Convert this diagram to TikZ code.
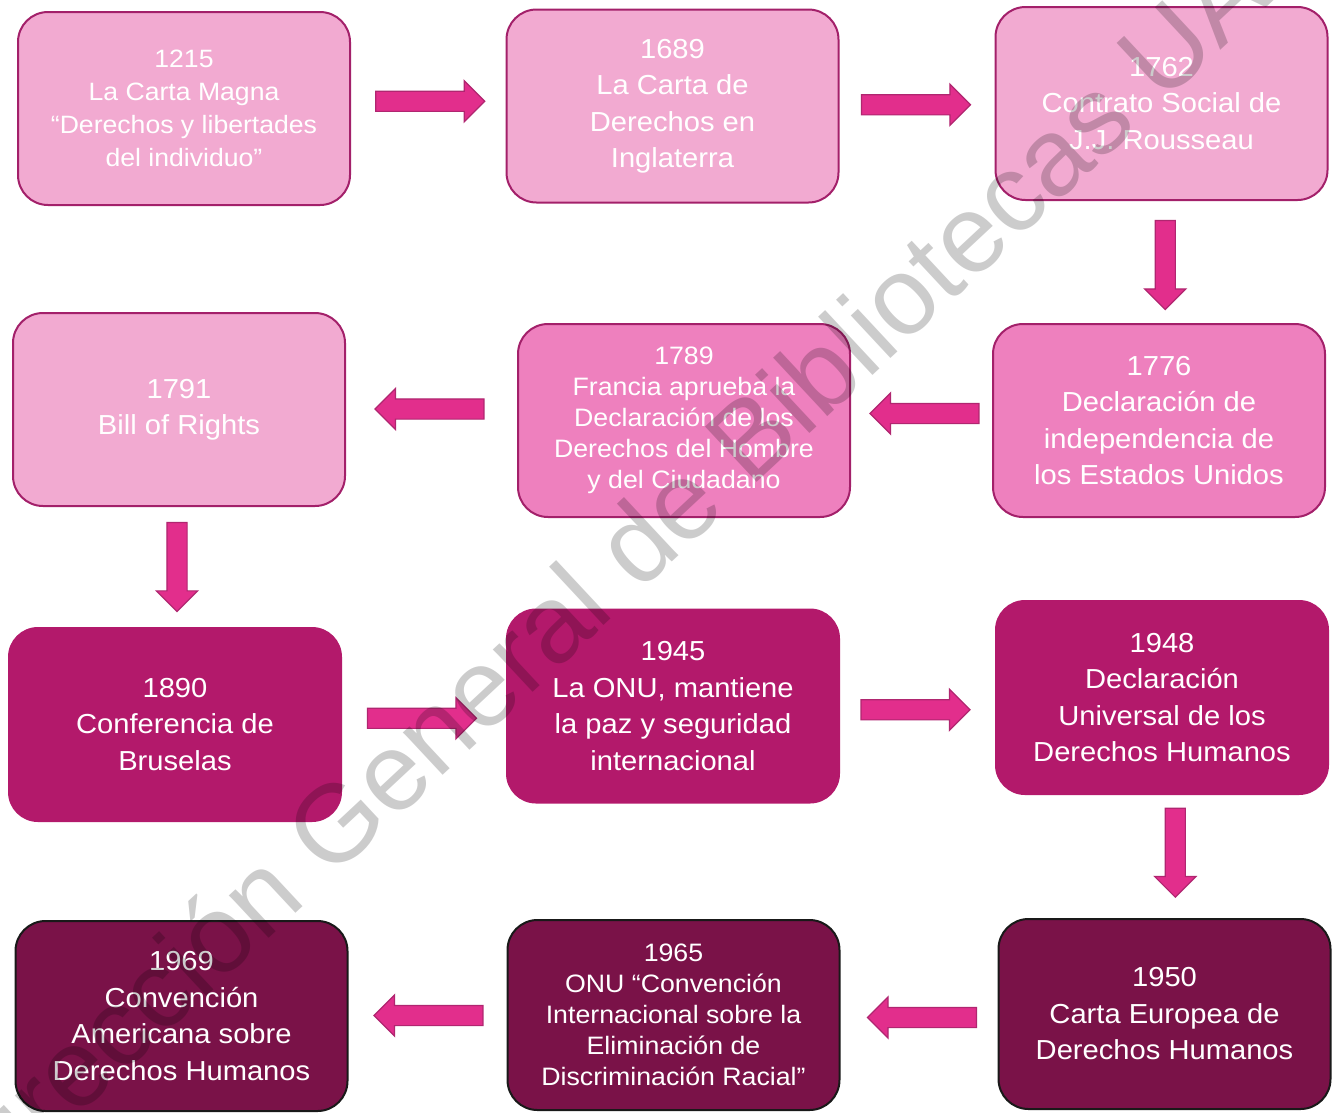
\documentclass[tikz,border=0pt]{standalone}
\usepackage{fontspec}
\setmainfont{Liberation Sans}[FakeStretch=1.06]
\newfontfamily\markfont{Liberation Sans}
\usetikzlibrary{positioning,calc,shapes.arrows}
\definecolor{pinklt}{HTML}{F2AAD1}
\definecolor{pinkmd}{HTML}{EE80BE}
\definecolor{mag}{HTML}{B3196B}
\definecolor{wine}{HTML}{7A1248}
\definecolor{rim}{HTML}{A3206A}
\definecolor{arrpk}{HTML}{E22E8C}
\definecolor{arrrim}{HTML}{B02670}

\begin{document}
\begin{tikzpicture}[x=1pt,y=-1pt,
  evt/.style={rounded corners=30pt,minimum width=332pt,minimum height=193pt,inner sep=0pt,align=center,text=white,font=\fontsize{27.5}{36.5}\selectfont},
  lt/.style={evt,fill=pinklt,draw=rim,line width=2pt},
  md/.style={evt,fill=pinkmd,draw=rim,line width=2pt},
  mg/.style={evt,fill=mag,minimum width=334pt,minimum height=195pt},
  dk/.style={evt,fill=wine,draw=black!90,line width=2pt,minimum height=190pt},
  mid/.style={font=\fontsize{25.1}{33}\selectfont},
  sml/.style={font=\fontsize{25.2}{31}\selectfont},
  blk/.style={single arrow,single arrow head extend=10.5pt,minimum height=109pt,inner xsep=0pt,inner ysep=9.5pt,fill=arrpk,draw=arrrim,line width=1.2pt}]
  \useasboundingbox (0,0) rectangle (1336,1112);
  \node[lt,mid] (c1215) at (184,108.5) {1215\\La Carta Magna\\“Derechos y libertades\\del individuo”};
  \node[lt] (c1689) at (672.5,106) {1689\\La Carta de\\Derechos en\\Inglaterra};
  \node[lt] (c1762) at (1161.5,103.5) {1762\\Contrato Social de\\J.J. Rousseau};
  \node[lt] (c1791) at (179,409.5) {1791\\Bill of Rights};
  \node[md,sml] (c1789) at (684,420.5) {1789\\Francia aprueba la\\Declaración de los\\Derechos del Hombre\\y del Ciudadano};
  \node[md] (c1776) at (1159,420.5) {1776\\Declaración de\\independencia de\\los Estados Unidos};
  \node[mg] (c1890) at (175,724.5) {1890\\Conferencia de\\Bruselas};
  \node[mg] (c1945) at (673,706) {1945\\La ONU, mantiene\\la paz y seguridad\\internacional};
  \node[mg] (c1948) at (1162,697.5) {1948\\Declaración\\Universal de los\\Derechos Humanos};
  \node[dk] (c1969) at (181.5,1016) {1969\\Convención\\Americana sobre\\Derechos Humanos};
  \node[dk,sml] (c1965) at (673.5,1015) {1965\\ONU “Convención\\Internacional sobre la\\Eliminación de\\Discriminación Racial”};
  \node[dk] (c1950) at (1164.5,1014) {1950\\Carta Europea de\\Derechos Humanos};
  \node[blk] (a1) at ($(c1215.east)!.5!(c1689.west)+(-3,-6)$) {};
  \node[blk] (a2) at ($(c1689.east)!.5!(c1762.west)+(-6,0)$) {};
  \node[blk,rotate=-90,minimum height=89pt] (a3) at ($(c1762.south)!.5!(c1776.north)+(5,-2)$) {};
  \node[blk,rotate=180] (a4) at ($(c1776.west)!.5!(c1789.east)+(8,-7)$) {};
  \node[blk,rotate=180] (a5) at ($(c1789.west)!.5!(c1791.east)+(3,-6)$) {};
  \node[blk,rotate=-90,minimum height=89pt] (a6) at ($(c1791.south)!.5!(c1890.north)+(0,-5)$) {};
  \node[blk] (a7) at ($(c1890.east)!.5!(c1945.west)+(-7,3)$) {};
  \node[blk] (a8) at ($(c1945.east)!.5!(c1948.west)+(-7,8)$) {};
  \node[blk,rotate=-90,minimum height=89pt] (a9) at ($(c1948.south)!.5!(c1950.north)+(12,-9)$) {};
  \node[blk,rotate=180] (a10) at ($(c1950.west)!.5!(c1965.east)+(8,3)$) {};
  \node[blk,rotate=180] (a11) at ($(c1965.west)!.5!(c1969.east)+(6,0)$) {};
  \node[rotate=43,anchor=base,text=black,text opacity=0.2,font=\markfont\fontsize{110}{110}\selectfont] (mark) at (655,578) {Dirección General de Bibliotecas UAQ};
\end{tikzpicture}
\end{document}
